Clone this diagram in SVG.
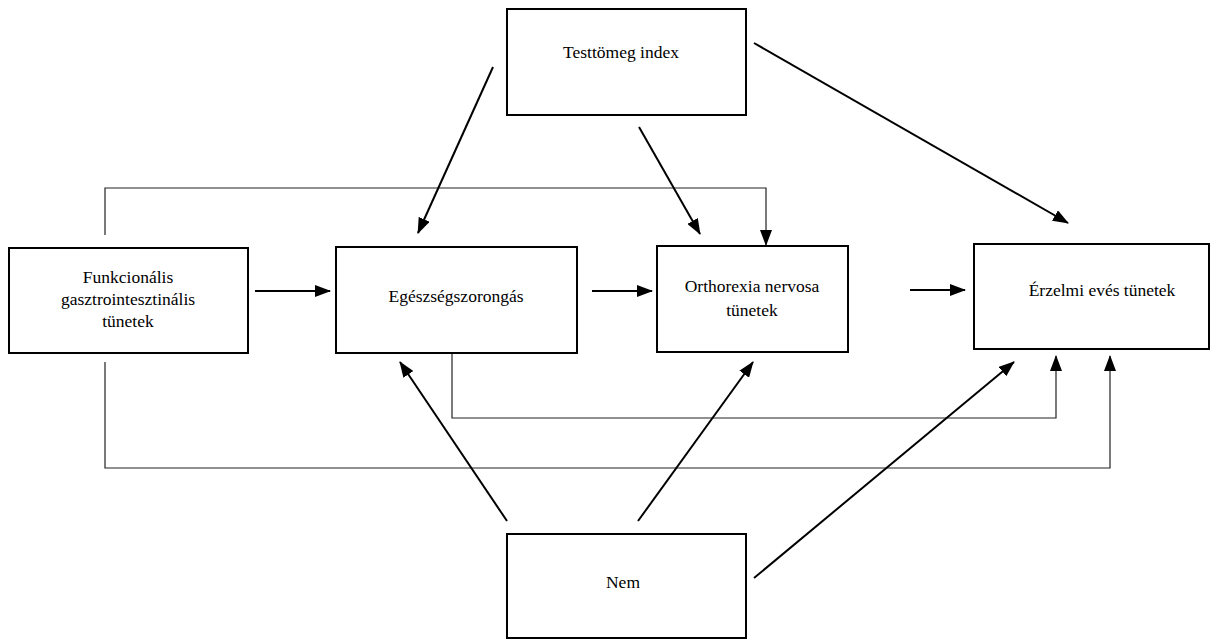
<svg xmlns="http://www.w3.org/2000/svg" width="1210" height="639" viewBox="0 0 1210 639">
  <style>
    .box { fill: #ffffff; stroke: #000000; stroke-width: 2; }
    .label { font-family: "Liberation Serif", "Times New Roman", serif; font-size: 17.5px; fill: #000000; text-anchor: middle; }
    .arrow { fill: none; stroke: #000000; stroke-width: 2; marker-end: url(#head); }
    .loop { fill: none; stroke: #222222; stroke-width: 1.2; }
    .loop-end { fill: none; stroke: #222222; stroke-width: 1.2; marker-end: url(#head); }
  </style>
  <defs>
    <marker id="head" markerUnits="userSpaceOnUse" markerWidth="16" markerHeight="12" refX="15" refY="6" orient="auto">
      <path d="M0,0 L16,6 L0,12 Z" fill="#000000"/>
    </marker>
  </defs>
  <rect width="1210" height="639" fill="#ffffff"/>

  <g id="connectors">
    <!-- feedback lines around the row -->
    <polyline class="loop-end" points="105,235 105,188 766,188 766,245"/>
    <polyline class="loop-end" points="105,362 105,468 1110,468 1110,356"/>
    <polyline class="loop-end" points="452,354 452,418 1056,418 1056,356"/>
    <!-- main row -->
    <line class="arrow" x1="255" y1="291" x2="330" y2="291"/>
    <line class="arrow" x1="592" y1="291" x2="652" y2="291"/>
    <line class="arrow" x1="910" y1="290" x2="965" y2="290"/>
    <!-- from Testtömeg index -->
    <line class="arrow" x1="493" y1="67" x2="418" y2="233"/>
    <line class="arrow" x1="639" y1="127" x2="700" y2="234"/>
    <line class="arrow" x1="754" y1="43" x2="1068" y2="223"/>
    <!-- from Nem -->
    <line class="arrow" x1="507" y1="521" x2="400" y2="362"/>
    <line class="arrow" x1="638" y1="521" x2="753" y2="362"/>
    <line class="arrow" x1="754" y1="578" x2="1014" y2="362"/>
  </g>

  <g id="node-funkcionalis">
    <rect class="box" x="9" y="248" width="239" height="105"/>
    <text class="label" x="128" y="283">Funkcionális</text>
    <text class="label" x="128" y="305">gasztrointesztinális</text>
    <text class="label" x="128" y="327">tünetek</text>
  </g>

  <g id="node-egeszsegszorongas">
    <rect class="box" x="336" y="247" width="241" height="106"/>
    <text class="label" x="456" y="302">Egészségszorongás</text>
  </g>

  <g id="node-orthorexia">
    <rect class="box" x="657" y="246" width="191" height="106"/>
    <text class="label" x="752" y="292">Orthorexia nervosa</text>
    <text class="label" x="752" y="316">tünetek</text>
  </g>

  <g id="node-erzelmi">
    <rect class="box" x="974" y="244" width="235" height="105"/>
    <text class="label" x="1102" y="296">Érzelmi evés tünetek</text>
  </g>

  <g id="node-testtomeg">
    <rect class="box" x="507" y="9" width="239" height="106"/>
    <text class="label" x="621" y="58">Testtömeg index</text>
  </g>

  <g id="node-nem">
    <rect class="box" x="507" y="534" width="239" height="104"/>
    <text class="label" x="623" y="588">Nem</text>
  </g>
</svg>
